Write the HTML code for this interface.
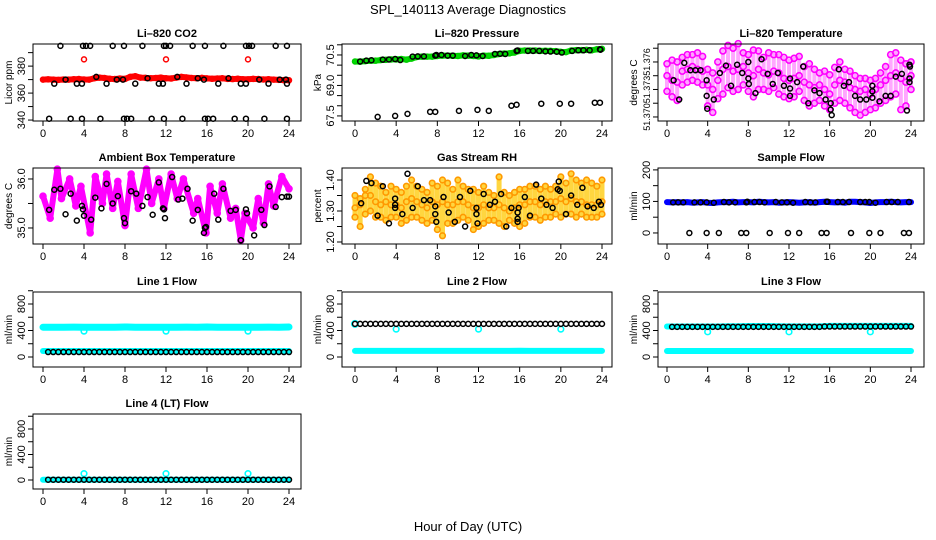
<!DOCTYPE html>
<html><head><meta charset="utf-8"><title>SPL_140113 Average Diagnostics</title>
<style>
html,body{margin:0;padding:0;background:#fff;}
svg{display:block;font-family:"Liberation Sans",Arial,sans-serif;}
</style></head>
<body>
<svg id="chart" width="936" height="540" viewBox="0 0 936 540">
<text x="468" y="14" text-anchor="middle" font-size="13">SPL_140113  Average Diagnostics</text>
<text x="468" y="531" text-anchor="middle" font-size="13">Hour of Day (UTC)</text>
</svg>
<script>
const H49 = [0,0.5,1,1.5,2,2.5,3,3.5,4,4.5,5,5.5,6,6.5,7,7.5,8,8.5,9,9.5,10,10.5,11,11.5,12,12.5,13,13.5,14,14.5,15,15.5,16,16.5,17,17.5,18,18.5,19,19.5,20,20.5,21,21.5,22,22.5,23,23.5,24];
const H25 = [0,1,2,3,4,5,6,7,8,9,10,11,12,13,14,15,16,17,18,19,20,21,22,23,24];
const xTicks = [0,4,8,12,16,20,24];

// CO2
const co2Red = [370.0,370.2,370.0,369.8,370.1,370.0,370.3,370.4,370.1,370.0,371.0,371.5,371.2,370.6,370.4,370.8,370.5,372.0,372.5,371.5,371.3,371.0,371.2,371.5,371.0,370.8,371.5,372.0,371.6,371.2,371.0,371.3,370.9,370.6,370.8,371.0,370.5,370.4,370.6,370.3,370.2,370.5,370.4,370.1,370.3,370.0,369.8,369.6,369.5];
const co2OutX = [4,12,20];
const co2OutY = [385,385,385];
const co2BlkX = [1.7,3.9,4.2,4.6,6.8,7.9,9.7,11.8,12.0,12.4,14.6,15.8,17.6,19.8,20.1,20.4,22.7,23.8, 0.6,2.7,3.8,5.6,7.9,8.2,8.6,10.6,11.8,13.6,15.8,16.1,16.6,18.7,19.8,21.6,23.8, 1.1,2.2,3.3,3.8,5.2,6.2,7.2,7.8,9.0,10.2,11.3,11.7,13.1,14.0,15.1,15.7,17.1,18.1,19.3,19.8,21.1,22.0,23.1,23.7,23.8];
const co2BlkY = [395,395,395,395,395,395,395,395,395,395,395,395,395,395,395,395,395,395, 341,341,341,341,341,341,341,341,341,341,341,341,341,341,341,341,341, 367,370,367,367,372,367,370,370,367,371,367,367,372,367,371,370,367,371,367,367,370,367,370,370,367];

// Pressure
const pressGreen = [70.18,70.17,70.2,70.22,70.22,70.25,70.26,70.28,70.28,70.3,70.27,70.32,70.4,70.42,70.42,70.42,70.45,70.47,70.47,70.46,70.45,70.48,70.47,70.45,70.43,70.47,70.46,70.5,70.55,70.57,70.58,70.62,70.7,70.72,70.72,70.72,70.7,70.71,70.7,70.69,70.65,70.64,70.72,70.74,70.74,70.75,70.73,70.78,70.8];
const pressBlkX = [0.5,1.1,1.6,2.7,3.3,3.9,4.4,5.6,6.1,6.7,7.8,7.9,8.4,9.0,9.5,10.7,11.3,11.8,12.4,13.6,14.1,14.6,15.7,15.8,16.8,17.3,17.9,18.5,19.0,19.6,20.1,21.1,21.7,22.2,22.8,23.8,23.85, 2.2,3.9,5.1,7.3,7.8,10.1,11.9,13.0,15.2,15.7,18.1,19.9,21.0,23.3,23.8];
const pressBlkY = [70.18,70.22,70.24,70.27,70.28,70.3,70.25,70.42,70.43,70.43,70.47,70.5,70.5,70.47,70.47,70.45,70.5,70.48,70.45,70.55,70.56,70.55,70.7,70.72,70.7,70.7,70.7,70.68,70.67,70.66,70.62,70.7,70.73,70.73,70.73,70.78,70.76, 67.45,67.5,67.6,67.7,67.7,67.75,67.8,67.75,68.0,68.05,68.1,68.1,68.1,68.15,68.15];

// Li-820 temperature
const tHi = [51.3758,51.3762,51.3760,51.3765,51.3768,51.3768,51.3770,51.3766,51.3752,51.3748,51.3760,51.3772,51.3778,51.3775,51.3780,51.3770,51.3768,51.3773,51.3772,51.3765,51.3770,51.3768,51.3768,51.3765,51.3762,51.3764,51.3766,51.3755,51.3758,51.3752,51.3748,51.3750,51.3746,51.3754,51.3760,51.3752,51.3750,51.3745,51.3742,51.3742,51.3740,51.3742,51.3748,51.3755,51.3768,51.3770,51.3762,51.3758,51.3760];
const tMid = [51.3745,51.3740,51.3738,51.3750,51.3752,51.3755,51.3752,51.3750,51.3735,51.3730,51.3740,51.3752,51.3755,51.3750,51.3752,51.3755,51.3748,51.3745,51.3752,51.3748,51.3746,51.3750,51.3748,51.3742,51.3740,51.3742,51.3745,51.3738,51.3735,51.3732,51.3735,51.3730,51.3725,51.3735,51.3740,51.3738,51.3732,51.3730,51.3728,51.3730,51.3725,51.3730,51.3735,51.3740,51.3745,51.3748,51.3742,51.3738,51.3745];
const tLo = [51.3728,51.3722,51.3718,51.3735,51.3738,51.3740,51.3738,51.3735,51.3712,51.3705,51.3720,51.3725,51.3732,51.3728,51.3730,51.3735,51.3728,51.3722,51.3730,51.3730,51.3728,51.3732,51.3725,51.3722,51.3720,51.3722,51.3728,51.3718,51.3712,51.3715,51.3718,51.3712,51.3708,51.3715,51.3718,51.3715,51.3710,51.3705,51.3702,51.3705,51.3708,51.3710,51.3715,51.3718,51.3722,51.3725,51.3708,51.3712,51.3730];
const tBlkX = [0.65,1.2,1.7,2.3,2.8,3.3,3.9,3.9,3.96,4.6,5.2,5.8,6.3,6.9,7.4,8.0,8.0,8.05,8.7,9.3,9.9,10.4,10.9,11.5,12.1,12.1,12.1,12.8,13.4,13.9,14.5,15.0,15.6,16.1,16.1,16.2,16.9,17.4,17.9,18.5,19.0,19.6,20.2,20.2,20.2,20.9,21.5,22.0,22.5,23.1,23.6,23.85,23.85,23.9,23.85];
const tBlkY = [51.3740,51.3719,51.3759,51.3751,51.3751,51.3751,51.3740,51.3723,51.3709,51.3719,51.3748,51.3756,51.3734,51.3757,51.3748,51.3760,51.3742,51.3736,51.3726,51.3763,51.3747,51.3736,51.3748,51.3734,51.3742,51.3731,51.3723,51.3738,51.3755,51.3715,51.3729,51.3726,51.3719,51.3715,51.3708,51.3702,51.3752,51.3734,51.3738,51.3723,51.3719,51.3719,51.3721,51.3728,51.3734,51.3717,51.3723,51.3723,51.3744,51.3747,51.3707,51.3742,51.3757,51.3755,51.3738];

// Ambient box temperature
const ambX = [0.0,0.7,1.4,1.8,2.6,3.2,3.7,4.6,5.1,5.8,6.2,6.8,7.3,8.0,8.6,9.3,10.1,10.6,11.3,11.8,12.5,13.1,13.7,14.7,15.1,15.9,16.3,17.0,17.5,18.3,18.8,19.3,19.7,20.5,21.0,21.5,22.0,22.5,23.3,24.0];
const ambV = [35.65,35.2,36.2,35.6,36.0,35.45,35.85,34.9,36.05,35.5,36.1,35.4,35.95,35.05,36.1,35.4,36.2,35.5,36.0,35.4,36.1,35.6,36.0,35.3,35.6,34.9,35.85,35.3,35.9,35.2,35.4,34.75,35.3,35.0,35.6,35.1,35.9,35.45,36.05,35.8];
const ambBlkX = [0.6,1.1,1.7,2.2,2.7,3.3,3.8,3.9,4.0,4.7,5.1,5.7,6.2,6.8,7.3,7.9,8.0,8.6,9.1,9.7,10.2,10.7,11.3,11.7,11.8,11.9,12.6,13.2,13.6,14.1,14.6,15.1,15.7,15.8,15.9,16.7,17.1,17.6,18.3,18.8,19.3,19.8,19.9,20.6,21.3,21.6,22.1,22.7,23.3,23.8,24.0];
const ambBlkY = [35.37,35.78,35.8,35.28,35.7,35.15,35.45,35.38,35.25,35.17,35.62,35.4,35.9,35.5,35.65,35.2,35.1,35.75,35.7,35.45,35.63,35.27,35.93,35.4,35.38,35.2,36.04,35.58,35.6,35.8,35.15,35.37,34.9,35.0,35.02,35.7,35.17,35.8,35.35,35.37,34.75,35.38,35.3,34.85,35.37,35.06,35.85,35.43,35.63,35.64,35.64];

// Gas stream RH
const rhHi = [1.35,1.34,1.37,1.41,1.39,1.38,1.36,1.38,1.37,1.36,1.38,1.40,1.38,1.37,1.36,1.39,1.38,1.40,1.39,1.37,1.40,1.38,1.37,1.37,1.36,1.38,1.36,1.35,1.41,1.36,1.35,1.36,1.37,1.37,1.38,1.38,1.37,1.38,1.37,1.38,1.41,1.39,1.42,1.40,1.39,1.40,1.39,1.38,1.40];
const rhMid = [1.31,1.32,1.35,1.35,1.33,1.32,1.33,1.32,1.32,1.31,1.33,1.34,1.33,1.32,1.31,1.33,1.32,1.33,1.32,1.32,1.33,1.33,1.32,1.31,1.31,1.32,1.31,1.31,1.32,1.31,1.30,1.31,1.32,1.32,1.33,1.33,1.32,1.33,1.33,1.33,1.34,1.33,1.34,1.33,1.33,1.32,1.32,1.32,1.33];
const rhLo = [1.28,1.25,1.29,1.30,1.28,1.28,1.27,1.28,1.28,1.26,1.27,1.28,1.28,1.27,1.26,1.27,1.24,1.22,1.26,1.26,1.27,1.28,1.27,1.24,1.25,1.26,1.27,1.27,1.26,1.25,1.27,1.26,1.25,1.26,1.28,1.28,1.27,1.28,1.28,1.29,1.28,1.29,1.29,1.28,1.29,1.28,1.28,1.28,1.29];
const rhBlkX = [0.6,1.1,1.6,2.2,2.7,3.3,3.9,3.9,3.9,4.6,5.1,5.6,6.1,6.7,7.3,7.8,7.8,7.9,8.6,9.1,9.7,10.2,10.7,11.2,11.8,11.8,11.9,12.5,13.1,13.6,14.2,14.7,15.2,15.8,15.8,15.8,15.9,16.5,17.0,17.6,18.1,18.6,19.2,19.7,19.8,19.9,20.5,21.0,21.6,22.1,22.6,23.2,23.7,23.9];
const rhBlkY = [1.325,1.397,1.39,1.285,1.38,1.26,1.34,1.32,1.31,1.29,1.42,1.31,1.38,1.335,1.335,1.315,1.29,1.265,1.345,1.295,1.265,1.345,1.25,1.365,1.31,1.29,1.26,1.355,1.32,1.33,1.355,1.25,1.31,1.295,1.275,1.265,1.31,1.345,1.285,1.385,1.34,1.32,1.31,1.37,1.395,1.365,1.29,1.35,1.32,1.375,1.315,1.31,1.33,1.32];

// Sample flow
const sfBlue = [98,97,98,97,98,96,97,98,96,95,97,98,98,99,97,98,98,97,99,98,97,98,96,97,98,97,96,97,98,96,98,99,98,97,98,96,99,99,98,97,95,97,98,98,99,98,97,98,98];
const sfBlkX = [0.6,1.1,1.6,2.7,3.3,3.9,4.6,5.6,6.1,6.7,7.8,7.9,8.6,9.1,9.6,10.7,11.3,11.8,12.4,13.6,14.1,14.6,15.7,15.8,16.8,17.3,17.9,19.0,19.5,19.9,20.5,21.6,22.1,22.7,23.8, 2.2,3.9,5.1,7.3,7.8,10.1,11.9,13.0,15.2,15.7,18.1,19.9,21.0,23.3,23.8];
const sfBlkY = [97,97,97,97,97,97,96,98,97,97,97,99,98,98,97,98,97,97,96,98,97,97,99,99,98,98,98,98,98,98,96,98,98,98,98, 0,0,0,0,0,0,0,0,0,0,0,0,0,0,0];

// Line flows
const l1CyanHi = [450,450,450,451,450,450,450,450,452,450,450,450,450,450,451,450,452,450,450,450,450,450,451,450,452];
const l1CyanLo = [90,90,90,90,90,90,90,90,90,90,90,90,90,90,90,90,90,90,90,90,90,90,90,90,90];
const l1Blk = [null,75,75,75,75,75,75,75,75,75,75,75,75,75,75,75,75,75,75,75,75,75,75,75,75,75,75,75,75,75,75,75,75,75,75,75,75,75,75,75,75,75,75,75,75,75,75,75,75];
const l1OutY = [390,390,390];
const l2CyanLo = [92,92,92,92,92,92,92,92,92,92,92,92,92,92,92,92,95,92,92,92,92,92,92,92,92];
const l2Blk = [500,500,500,500,500,500,500,500,500,500,500,500,500,500,500,500,500,500,500,500,500,500,500,500,500,500,500,500,500,500,500,500,500,500,500,500,500,500,500,500,500,500,500,500,500,500,500,500,500];
const l2OutY = [420,420,420];
const l3CyanHi = [460,460,460,460,460,460,465,465,468,468,468,465,462,462,462,462,470,470,470,470,470,470,470,470,470];
const l3CyanLo = [90,90,90,90,90,90,90,90,90,90,90,90,90,90,90,90,90,90,90,90,90,90,90,90,90];
const l3Blk = [null,455,455,455,455,455,455,455,455,455,455,455,455,455,455,455,455,455,455,455,455,455,455,455,455,455,455,455,455,455,455,460,460,460,460,460,460,460,460,460,460,460,460,460,460,460,460,460,460];
const l3OutY = [380,380,380];
const l4CyanLo = [5,5,5,5,5,5,5,5,5,5,5,5,5,5,5,5,5,5,5,5,5,5,5,5,5];
const l4Blk = [null,5,5,5,5,5,5,5,5,5,5,5,5,5,5,5,5,5,5,5,5,5,5,5,5,5,5,5,5,5,5,5,5,5,5,5,5,5,5,5,5,5,5,5,5,5,5,5,5];
const l4OutY = [100,100,100];
const outX = [4,12,20];

const NS = "http://www.w3.org/2000/svg";
const svg = document.getElementById('chart');
function mk(parent, tag, attrs, name, inter) {
  const el = document.createElementNS(NS, tag);
  for (const k in attrs) el.setAttribute(k, attrs[k]);
  
  
  parent.appendChild(el);
  return el;
}

function makePanel(p) {
  const g = mk(svg, 'g', {}, p.name, false);
  p.g = g;
  p.sx = h => p.x0 + h * (p.x24 - p.x0) / 24;
  p.sy = v => p.bottom - (v - p.yLo) / (p.yHi - p.yLo) * (p.bottom - p.top);
  const t = mk(g, 'text', {x: (p.left + p.right) / 2, y: p.top - 7, 'text-anchor': 'middle', 'font-size': 11, 'font-weight': 'bold'}, 'panel-title', false);
  t.textContent = p.title;
  const yl = mk(g, 'text', {x: 0, y: 0, transform: `translate(${p.left - 21},${(p.top + p.bottom) / 2}) rotate(-90)`, 'text-anchor': 'middle', 'font-size': 10}, 'y-axis-title', false);
  yl.textContent = p.ylab;
  xTicks.forEach(h => {
    const x = p.sx(h);
    mk(g, 'line', {x1: x, x2: x, y1: p.bottom, y2: p.bottom + 5, stroke: '#000'}, 'x-tick', false);
    const tl = mk(g, 'text', {x: x, y: p.bottom + 16, 'text-anchor': 'middle', 'font-size': 11}, 'x-tick-label', false);
    tl.textContent = h;
  });
  p.yTicks.forEach(v => {
    const y = p.sy(v);
    mk(g, 'line', {x1: p.left - 5, x2: p.left, y1: y, y2: y, stroke: '#000'}, 'y-tick', false);
  });
  p.yLabels.forEach((v, i) => {
    const y = p.sy(v);
    const tl = mk(g, 'text', {x: 0, y: 0, transform: `translate(${p.left - 8},${y}) rotate(-90)`, 'text-anchor': 'middle', 'font-size': p.yFont || 11}, 'y-tick-label', false);
    tl.textContent = p.yLabelText[i];
  });
  p.clipG = mk(g, 'g', {}, 'plot-area', false);
  return p;
}
function finishPanel(p) {
  mk(p.g, 'rect', {x: p.left, y: p.top, width: p.right - p.left, height: p.bottom - p.top, fill: 'none', stroke: '#000'}, 'plot-box', false);
}
function pts(p, xs, ys, color, r, sw, name) {
  xs.forEach((h, i) => {
    if (ys[i] === null || ys[i] === undefined) return;
    mk(p.clipG, 'circle', {cx: p.sx(h), cy: p.sy(ys[i]), r: r, fill: 'none', stroke: color, 'stroke-width': sw}, name, false);
  });
}
function band(p, xs, ys, color, w, name) {
  const d = xs.map((h, i) => (i ? 'L' : 'M') + p.sx(h).toFixed(1) + ' ' + p.sy(ys[i]).toFixed(1)).join(' ');
  mk(p.clipG, 'path', {d: d, fill: 'none', stroke: color, 'stroke-width': w, 'stroke-linejoin': 'round', 'stroke-linecap': 'round'}, name, false);
}
function spread(p, xs, lo, hi, color, w, name) {
  xs.forEach((h, i) => {
    mk(p.clipG, 'line', {x1: p.sx(h), x2: p.sx(h), y1: p.sy(lo[i]), y2: p.sy(hi[i]), stroke: color, 'stroke-width': w, 'stroke-linecap': 'round'}, name, false);
  });
}

const C1 = {left: 33, right: 301, x0: 43, x24: 289};
const C2 = {left: 342, right: 612, x0: 355, x24: 602};
const C3 = {left: 658, right: 924, x0: 667, x24: 911};
const R1 = {top: 44, bottom: 121}, R2 = {top: 168, bottom: 244}, R3 = {top: 292, bottom: 367}, R4 = {top: 414, bottom: 489};
const flowTicks = [0,200,400,600,800,1000];
const BLK = '#000', MAG = '#ff00ff', CY = '#00ffff';

let p = makePanel(Object.assign({name: 'co2-panel', title: 'Li\u2013820 CO2', ylab: 'Licor ppm', yLo: 339.3, yHi: 396.4, yTicks: [340,350,360,370,380,390], yLabels: [340,360,380], yLabelText: ['340','360','380']}, C1, R1));
band(p, H49, co2Red, '#ff0000', 6, 'co2-red-series');
pts(p, H49, co2Red, '#ff0000', 2.5, 1.5, 'co2-red-point');
pts(p, co2OutX, co2OutY, '#ff0000', 2.5, 1.5, 'co2-red-outlier');
pts(p, co2BlkX, co2BlkY, BLK, 2.5, 1.5, 'co2-black-point');
finishPanel(p);

p = makePanel(Object.assign({name: 'pressure-panel', title: 'Li\u2013820 Pressure', ylab: 'kPa', yLo: 67.25, yHi: 71.04, yTicks: [67.5,68,68.5,69,69.5,70,70.5,71], yLabels: [67.5,69,70.5], yLabelText: ['67.5','69.0','70.5']}, C2, R1));
band(p, H49, pressGreen, '#00dd00', 6, 'pressure-green-series');
pts(p, H49, pressGreen, '#00cc00', 2.5, 1.5, 'pressure-green-point');
pts(p, pressBlkX, pressBlkY, BLK, 2.5, 1.5, 'pressure-black-point');
finishPanel(p);

p = makePanel(Object.assign({name: 'li820-temperature-panel', title: 'Li\u2013820 Temperature', ylab: 'degrees C', yFont: 9, yLo: 51.36956, yHi: 51.37796, yTicks: [51.370,51.3715,51.373,51.3745,51.376,51.3775], yLabels: [51.370,51.373,51.376], yLabelText: ['51.370','51.373','51.376']}, C3, R1));
spread(p, H49, tLo, tHi, 'rgba(255,0,255,0.35)', 4, 'temperature-spread');
pts(p, H49, tHi, MAG, 3, 1.6, 'temperature-pink-point');
pts(p, H49, tMid, MAG, 3, 1.6, 'temperature-pink-point');
pts(p, H49, tLo, MAG, 3, 1.6, 'temperature-pink-point');
pts(p, tBlkX, tBlkY, BLK, 2.5, 1.5, 'temperature-black-point');
finishPanel(p);

p = makePanel(Object.assign({name: 'ambient-temperature-panel', title: 'Ambient Box Temperature', ylab: 'degrees C', yLo: 34.673, yHi: 36.224, yTicks: [35,35.5,36], yLabels: [35,36], yLabelText: ['35.0','36.0']}, C1, R2));
band(p, ambX, ambV, MAG, 6, 'ambient-pink-series');
pts(p, ambX, ambV, MAG, 3, 1.6, 'ambient-pink-point');
pts(p, ambBlkX, ambBlkY, BLK, 2.5, 1.5, 'ambient-black-point');
finishPanel(p);

p = makePanel(Object.assign({name: 'gas-rh-panel', title: 'Gas Stream RH', ylab: 'percent', yLo: 1.1935, yHi: 1.4387, yTicks: [1.20,1.25,1.30,1.35,1.40], yLabels: [1.2,1.3,1.4], yLabelText: ['1.20','1.30','1.40']}, C2, R2));
spread(p, H49, rhLo, rhHi, 'rgba(255,200,0,0.75)', 5, 'rh-spread');
pts(p, H49, rhHi, '#ff9900', 2.8, 1.6, 'rh-orange-point');
pts(p, H49, rhMid, '#ff9900', 2.8, 1.6, 'rh-orange-point');
pts(p, H49, rhLo, '#ff9900', 2.8, 1.6, 'rh-orange-point');
pts(p, rhBlkX, rhBlkY, BLK, 2.5, 1.5, 'rh-black-point');
finishPanel(p);

p = makePanel(Object.assign({name: 'sample-flow-panel', title: 'Sample Flow', ylab: 'ml/min', yLo: -35, yHi: 206, yTicks: [0,50,100,150,200], yLabels: [0,100,200], yLabelText: ['0','100','200']}, C3, R2));
band(p, H49, sfBlue, '#0000ff', 6, 'sample-flow-blue-series');
pts(p, sfBlkX, sfBlkY, BLK, 2.5, 1.5, 'sample-flow-black-point');
finishPanel(p);

p = makePanel(Object.assign({name: 'line1-flow-panel', title: 'Line 1 Flow', ylab: 'ml/min', yLo: -151, yHi: 981, yTicks: flowTicks, yLabels: [0,400,800], yLabelText: ['0','400','800']}, C1, R3));
band(p, H25, l1CyanHi, CY, 7, 'line1-cyan-high');
band(p, H25, l1CyanLo, CY, 6, 'line1-cyan-low');
pts(p, outX, l1OutY, CY, 2.8, 1.6, 'line1-cyan-outlier');
pts(p, H49, l1Blk, BLK, 2.5, 1.5, 'line1-black-point');
finishPanel(p);

p = makePanel(Object.assign({name: 'line2-flow-panel', title: 'Line 2 Flow', ylab: 'ml/min', yLo: -151, yHi: 981, yTicks: flowTicks, yLabels: [0,400,800], yLabelText: ['0','400','800']}, C2, R3));
band(p, H25, l2CyanLo, CY, 6, 'line2-cyan-low');
pts(p, outX, l2OutY, CY, 2.8, 1.6, 'line2-cyan-outlier');
pts(p, [0], [500], CY, 3, 2, 'line2-cyan-start');
pts(p, H49, l2Blk, BLK, 2.5, 1.5, 'line2-black-point');
finishPanel(p);

p = makePanel(Object.assign({name: 'line3-flow-panel', title: 'Line 3 Flow', ylab: 'ml/min', yLo: -151, yHi: 981, yTicks: flowTicks, yLabels: [0,400,800], yLabelText: ['0','400','800']}, C3, R3));
band(p, H25, l3CyanHi, CY, 6, 'line3-cyan-high');
band(p, H25, l3CyanLo, CY, 6, 'line3-cyan-low');
pts(p, outX, l3OutY, CY, 2.8, 1.6, 'line3-cyan-outlier');
pts(p, H49, l3Blk, BLK, 2.5, 1.5, 'line3-black-point');
finishPanel(p);

p = makePanel(Object.assign({name: 'line4-flow-panel', title: 'Line 4 (LT) Flow', ylab: 'ml/min', yLo: -141, yHi: 1035, yTicks: flowTicks, yLabels: [0,400,800], yLabelText: ['0','400','800']}, C1, R4));
band(p, H25, l4CyanLo, CY, 6, 'line4-cyan-low');
pts(p, outX, l4OutY, CY, 2.8, 1.6, 'line4-cyan-outlier');
pts(p, H49, l4Blk, BLK, 2.5, 1.5, 'line4-black-point');
finishPanel(p);
</script>
</body></html>
